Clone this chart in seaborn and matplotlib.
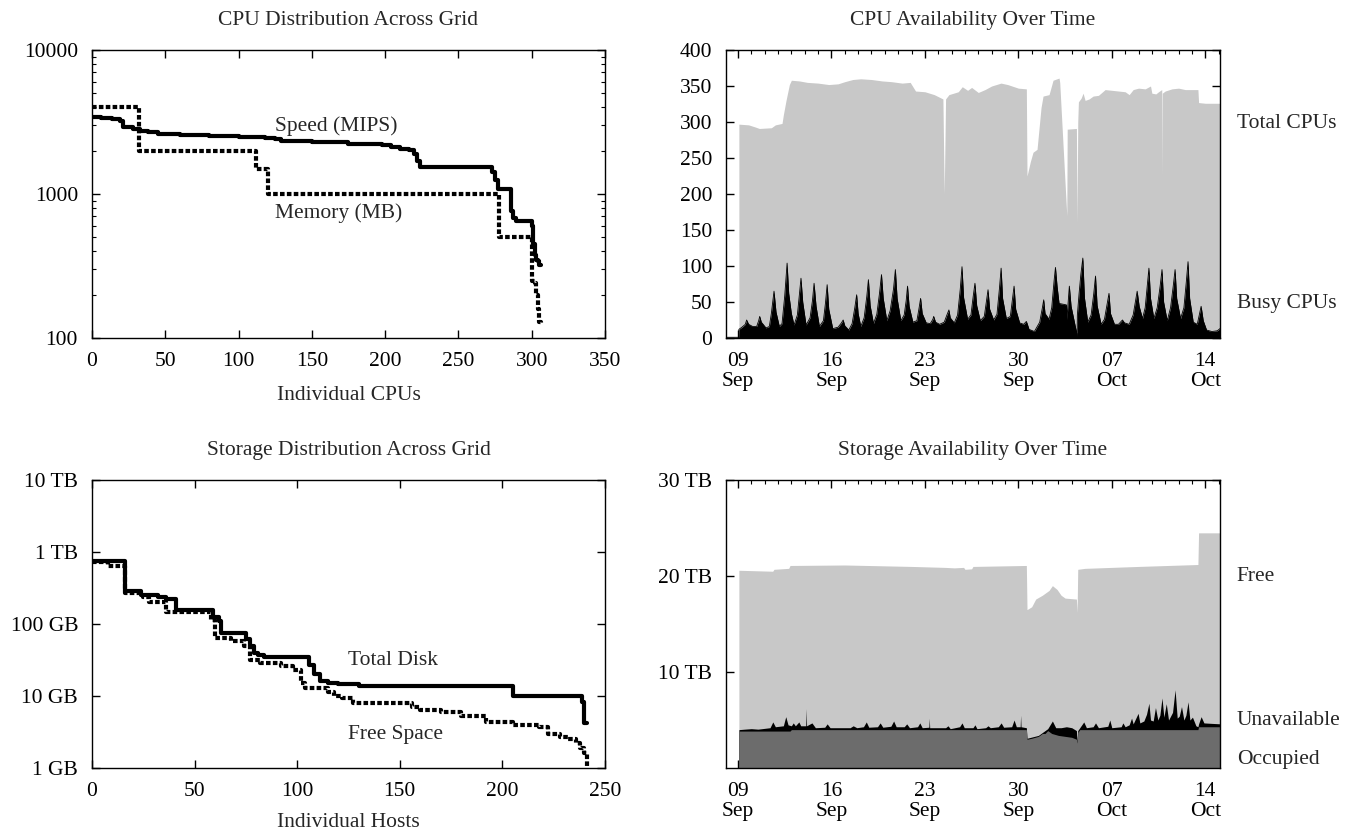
import pandas as pd
import numpy as np
import seaborn as sns
import matplotlib.pyplot as plt
import matplotlib.dates as mdates
from matplotlib.ticker import FixedLocator, FuncFormatter, NullFormatter, NullLocator, LogLocator

# ---- CPU distribution (sorted per CPU, step curves) ----
speed_x = [0, 6, 14, 19, 21, 28, 33, 38, 45, 60, 80, 100, 118, 125, 129, 150, 175, 198, 204, 210, 216,
           220, 222, 224, 273, 275, 277, 286, 287, 289, 300, 301, 302, 303, 304, 305, 306]
speed_mips = [3450, 3350, 3300, 3200, 2900, 2820, 2760, 2680, 2620, 2570, 2530, 2490, 2450, 2400, 2320,
              2280, 2240, 2200, 2120, 2060, 2010, 1900, 1700, 1540, 1420, 1250, 1090, 760, 680, 650, 600,
              450, 380, 350, 340, 320, 320]
mem_x = [0, 32, 112, 120, 278, 300, 302, 303, 304, 305, 306]
mem_mb = [4000, 2000, 1500, 1000, 500, 250, 240, 200, 160, 130, 125]

# ---- storage distribution (GB per host) ----
disk_x = [0, 16, 24, 32, 36, 41, 59, 62, 63, 75, 77, 79, 81, 84, 106, 108, 111, 115, 120, 130, 205,
          239, 240, 241]
disk_gb = [760, 290, 255, 235, 225, 155, 125, 110, 76, 62, 50, 40, 37, 35, 27, 20, 16, 15, 14.5, 13.6,
           10, 8.3, 4.2, 4.2]
free_x = [0, 8, 16, 25, 28, 36, 58, 60, 68, 74, 77, 82, 92, 98, 102, 104, 115, 118, 122, 127, 156, 160,
          170, 180, 192, 205, 218, 222, 228, 232, 236, 238, 240, 241]
free_gb = [720, 640, 270, 240, 200, 148, 115, 64, 59, 49, 32, 29, 26, 23, 15, 12.8, 11.5, 10, 9.3, 7.9,
           7, 6.3, 6.0, 5.2, 4.4, 3.95, 3.7, 2.95, 2.7, 2.5, 2.2, 1.9, 1.6, 1.0]

# ---- CPU availability over time (days after 09 Sep) ----
total_cpu_day = [0.07, 0.8, 1.3, 1.6, 2.5, 2.8, 3.3, 3.4, 3.6, 3.85, 4.0, 4.6, 5.2, 6.0, 6.8, 7.5, 8.0,
                 8.6, 9.2, 10.0, 10.8, 11.5, 12.3, 12.9, 13.3, 14.0, 14.7, 15.35, 15.45, 15.55, 15.8,
                 16.5, 16.8, 17.2, 17.5, 18.0, 18.5, 19.0, 19.7, 20.2, 21.0, 21.6, 21.65, 21.9, 22.1,
                 22.4, 22.7, 22.85, 23.3, 23.6, 24.05, 24.1, 24.6, 24.63, 24.66, 25.35, 25.4, 25.45,
                 25.5, 25.7, 25.85, 26.0, 26.3, 26.6, 27.0, 27.5, 28.0, 28.5, 29.0, 29.3, 29.6, 30.0,
                 30.5, 30.9, 31.0, 31.3, 31.5, 31.74, 31.76, 31.78, 32.0, 32.5, 33.0, 33.5, 34.45, 34.5,
                 35.0, 36.17]
total_cpu = [297, 296, 293, 291, 292, 296, 298, 310, 330, 352, 358, 357, 355, 354, 352, 353, 356,
             359, 360, 359, 357, 356, 354, 355, 343, 342, 338, 332, 200, 332, 338,
             342, 349, 344, 348, 341, 345, 350, 354, 352, 347, 346, 225, 245, 258,
             262, 320, 336, 338, 358, 361, 355, 180, 170, 290, 291, 160, 300,
             328, 333, 340, 330, 332, 336, 337, 345, 344, 343, 342, 338, 345, 347,
             346, 350, 340, 339, 342, 345, 225, 340, 343, 346, 347, 345, 345, 327,
             326, 326]

busy_day = [-0.9, 0.05, 0.07, 0.3, 0.55, 0.65, 0.8, 1.1,
            1.4, 1.55, 1.63, 1.75, 2.1,
            2.35, 2.5, 2.7, 2.85, 3.1,
            3.3, 3.5, 3.68, 3.8, 4.0, 4.2,
            4.45, 4.6, 4.72, 4.85, 5.1,
            5.4, 5.58, 5.7, 5.85, 6.1,
            6.4, 6.55, 6.68, 6.8, 7.1,
            7.5, 7.75, 7.88, 8.0, 8.3,
            8.55, 8.75, 8.89, 9.0, 9.2,
            9.45, 9.65, 9.77, 9.9, 10.15,
            10.4, 10.6, 10.75, 10.88, 11.15,
            11.4, 11.65, 11.79, 11.92, 12.2,
            12.45, 12.6, 12.7, 12.82, 13.1,
            13.4, 13.55, 13.68, 13.8, 14.1,
            14.4, 14.6, 14.66, 14.8, 15.1,
            15.45, 15.65, 15.8, 15.9, 16.2,
            16.45, 16.65, 16.78, 16.9, 17.2,
            17.45, 17.62, 17.75, 17.88, 18.15,
            18.45, 18.6, 18.73, 18.85, 19.15,
            19.4, 19.58, 19.71, 19.82, 20.1,
            20.4, 20.55, 20.68, 20.8, 21.1,
            21.4, 21.6, 21.66, 21.8, 22.2,
            22.6, 22.8, 22.9, 23.0, 23.3,
            23.5, 23.68, 23.78, 23.9, 24.05, 24.6, 24.65,
            24.7, 24.82, 24.95, 25.2, 25.38, 25.4, 25.42,
            25.55, 25.68, 25.83, 25.95, 26.2,
            26.45, 26.65, 26.78, 26.9, 27.2,
            27.45, 27.65, 27.79, 27.9, 28.2,
            28.5, 28.7, 28.8, 28.95, 29.3,
            29.6, 29.78, 29.9, 30.05, 30.3,
            30.5, 30.65, 30.78, 30.9, 31.15,
            31.4, 31.62, 31.76, 31.88, 32.15,
            32.4, 32.6, 32.74, 32.86, 33.15,
            33.4, 33.58, 33.71, 33.83, 34.1,
            34.4, 34.55, 34.69, 34.85, 35.1,
            35.5, 35.9, 36.17]
busy_cpu = [1, 1, 12, 15, 19, 25, 19, 16,
            16, 24, 30, 22, 14,
            16, 34, 65, 36, 16,
            20, 58, 104, 62, 34, 18,
            32, 60, 83, 50, 18,
            28, 52, 76, 44, 16,
            24, 48, 74, 40, 13,
            15, 21, 25, 17, 11,
            20, 42, 60, 34, 16,
            28, 58, 81, 45, 20,
            33, 62, 88, 55, 24,
            38, 68, 95, 55, 24,
            32, 52, 72, 44, 22,
            24, 40, 55, 34, 21,
            20, 26, 30, 22, 19,
            22, 32, 39, 28, 21,
            32, 68, 99, 56, 26,
            32, 58, 76, 45, 24,
            30, 50, 67, 40, 25,
            33, 68, 97, 55, 27,
            30, 52, 72, 40, 21,
            19, 23, 20, 12, 9,
            22, 42, 53, 34, 26,
            42, 80, 98, 72, 48, 46, 26,
            42, 72, 44, 22, 6, 0, 32,
            62, 88, 111, 56, 22,
            32, 62, 86, 45, 19,
            26, 47, 62, 34, 19,
            19, 23, 25, 21, 19,
            32, 52, 65, 44, 27,
            42, 72, 97, 55, 27,
            42, 72, 95, 50, 24,
            42, 72, 95, 55, 27,
            42, 78, 106, 55, 22,
            19, 32, 44, 24, 11,
            9, 10, 14]

# ---- storage availability over time (TB) ----
stor_total_day = [0.07, 2.6, 2.7, 3.8, 3.9, 8.0, 13.0, 15.5, 16.2, 16.9, 17.0, 17.5, 17.6, 21.6, 21.65,
                  22.0, 22.3, 22.8, 23.3, 23.55, 23.9, 24.2, 24.5, 25.35, 25.4, 25.45, 26.0, 30.0, 34.45,
                  34.5, 36.17]
stor_total_tb = [20.6, 20.5, 20.7, 20.8, 21.1, 21.15, 21.0, 20.9, 20.85, 20.9, 20.7, 20.75, 21.0, 21.1,
                 16.5, 16.8, 17.6, 18.0, 18.5, 19.0, 18.6, 18.0, 17.7, 17.6, 16.2, 20.7, 20.8, 21.0,
                 21.2, 24.5, 24.5]
occupied_day = [0.07, 3.9, 4.0, 21.6, 21.65, 22.0, 22.5, 22.8, 23.0, 23.2, 23.5, 24.0, 24.5, 25.0,
                25.35, 25.4, 25.45, 25.6, 34.45, 34.5, 36.17]
occupied_tb = [3.85, 3.85, 4.0, 4.0, 3.0, 3.1, 3.3, 3.6, 3.6, 3.9, 3.6, 3.4, 3.3, 3.2,
               3.0, 2.6, 3.7, 4.0, 4.0, 4.3, 4.3]
unavail_day = [0.07, 0.5, 1.0, 1.5, 2.4, 2.61, 2.8, 3.4, 3.58, 3.75, 4.0, 4.14, 4.3, 4.56, 4.7, 5.08,
               5.11, 5.14, 5.54, 5.8, 6.5, 6.68, 6.9, 8.4, 8.63, 8.9, 9.4, 9.61, 9.8, 10.45, 10.65,
               10.85, 11.45, 11.66, 11.85, 12.45, 12.64, 12.85, 13.45, 13.62, 13.8, 14.3, 14.33, 14.36,
               15.55, 15.73, 15.9, 16.6, 16.78, 16.95, 17.6, 17.75, 17.9, 18.55, 18.73, 18.9, 19.5,
               19.71, 19.9, 20.5, 20.68, 20.85, 21.14, 21.17, 21.2, 21.6, 21.65, 22.5, 22.8, 23.2,
               23.55, 23.8, 24.2, 24.6, 25.0, 25.35, 25.4, 25.45, 25.9, 26.1, 26.6, 26.78, 27.0, 27.7,
               27.85, 28.0, 28.7, 28.83, 29.0, 29.3, 29.48, 29.6, 29.97, 30.1, 30.4, 30.6, 30.78, 30.9,
               31.1, 31.27, 31.45, 31.6, 31.76, 31.9, 32.08, 32.25, 32.55, 32.74, 32.9, 33.05, 33.22,
               33.4, 33.55, 33.71, 33.85, 34.04, 34.3, 34.45, 34.5, 34.69, 34.9, 35.5, 36.17]
unavail_top_tb = [4.0, 4.05, 4.1, 4.05, 4.2, 4.8, 4.3, 4.4, 5.35, 4.5, 4.4, 4.7, 4.4, 4.8, 4.4, 4.4,
                  6.2, 4.4, 4.7, 4.2, 4.25, 4.6, 4.2, 4.2, 4.4, 4.2, 4.3, 4.8, 4.25, 4.3, 4.7,
                  4.25, 4.35, 4.9, 4.3, 4.3, 4.6, 4.2, 4.3, 4.7, 4.2, 4.25, 5.2, 4.2,
                  4.2, 4.4, 4.1, 4.3, 4.7, 4.2, 4.2, 4.5, 4.1, 4.2, 4.4, 4.2, 4.3,
                  4.7, 4.25, 4.3, 5.0, 4.3, 4.3, 5.5, 4.3, 4.2, 3.1, 3.4, 3.7, 4.1,
                  4.9, 4.2, 4.2, 4.3, 4.2, 3.9, 2.7, 3.9, 4.8, 4.2, 4.3, 4.7, 4.2, 4.35,
                  5.0, 4.2, 4.3, 4.7, 4.3, 4.5, 5.2, 4.6, 5.7, 4.7, 4.9, 5.6, 6.75, 5.0,
                  4.9, 6.3, 5.0, 5.5, 7.3, 5.3, 6.7, 5.0, 5.8, 8.15, 5.2, 5.4, 6.4,
                  5.0, 5.5, 6.9, 5.0, 5.3, 4.4, 4.3, 4.6, 5.35, 4.7, 4.65, 4.6]

start = pd.Timestamp("2003-09-09")


def to_dates(days):
    return start + pd.to_timedelta(np.array(days, dtype=float), unit="D")


sns.set_theme(style="ticks")
plt.rcParams["font.family"] = ["Liberation Serif", "DejaVu Serif"]
FS = 15.5
plt.rcParams["font.size"] = FS
plt.rcParams["axes.linewidth"] = 1.0
plt.rcParams["axes.edgecolor"] = "black"

light = "#c8c8c8"
dark = "#6c6c6c"
dotted = (0, (1.1, 0.55))

fig = plt.figure(figsize=(13.62, 8.36), dpi=100)
ax_cpu = fig.add_axes([0.0675, 0.5957, 0.3767, 0.3445])
ax_cpu_t = fig.add_axes([0.5330, 0.5957, 0.3627, 0.3445])
ax_sto = fig.add_axes([0.0675, 0.0813, 0.3767, 0.3445])
ax_sto_t = fig.add_axes([0.5330, 0.0813, 0.3627, 0.3445])


def style_box(ax):
    ax.tick_params(which="both", direction="in", top=True, right=True, colors="black",
                   labelsize=FS, pad=10)
    ax.tick_params(which="major", length=6, width=1)
    ax.tick_params(which="minor", length=3, width=0.8)
    for s in ax.spines.values():
        s.set_visible(True)
        s.set_color("black")
        s.set_linewidth(1.0)


# CPU distribution
sns.lineplot(x=speed_x, y=speed_mips, ax=ax_cpu, color="black", lw=3, estimator=None,
             drawstyle="steps-post")
sns.lineplot(x=mem_x, y=mem_mb, ax=ax_cpu, color="black", lw=3, estimator=None,
             drawstyle="steps-post", linestyle=dotted)
ax_cpu.set_yscale("log")
ax_cpu.set_ylim(100, 10000)
ax_cpu.set_xlim(0, 350)
ax_cpu.set_xticks(range(0, 351, 50))
ax_cpu.yaxis.set_major_locator(FixedLocator([100, 1000, 10000]))
ax_cpu.yaxis.set_major_formatter(FuncFormatter(lambda v, p: f"{int(round(v))}"))
ax_cpu.yaxis.set_minor_locator(LogLocator(base=10, subs=range(2, 10)))
ax_cpu.yaxis.set_minor_formatter(NullFormatter())
style_box(ax_cpu)
ax_cpu.set_title("CPU Distribution Across Grid", fontsize=FS, pad=18)
ax_cpu.set_xlabel("Individual CPUs", fontsize=FS, labelpad=11)
ax_cpu.text(125, 2940, "Speed (MIPS)", fontsize=FS, va="center", ha="left")
ax_cpu.text(125, 740, "Memory (MB)", fontsize=FS, va="center", ha="left")

# Storage distribution
sns.lineplot(x=disk_x, y=disk_gb, ax=ax_sto, color="black", lw=3, estimator=None,
             drawstyle="steps-post")
sns.lineplot(x=free_x, y=free_gb, ax=ax_sto, color="black", lw=3, estimator=None,
             drawstyle="steps-post", linestyle=dotted)
ax_sto.set_yscale("log")
ax_sto.set_ylim(1, 10000)
ax_sto.set_xlim(0, 250)
ax_sto.set_xticks(range(0, 251, 50))
gb_labels = {1: "1 GB", 10: "10 GB", 100: "100 GB", 1000: "1 TB", 10000: "10 TB"}
ax_sto.yaxis.set_major_locator(FixedLocator(list(gb_labels)))
ax_sto.yaxis.set_major_formatter(FuncFormatter(lambda v, p: gb_labels.get(int(round(v)), "")))
ax_sto.yaxis.set_minor_locator(NullLocator())
style_box(ax_sto)
ax_sto.set_title("Storage Distribution Across Grid", fontsize=FS, pad=18)
ax_sto.set_xlabel("Individual Hosts", fontsize=FS, labelpad=9)
ax_sto.text(125, 31, "Total Disk", fontsize=FS, va="center", ha="left")
ax_sto.text(125, 2.9, "Free Space", fontsize=FS, va="center", ha="left")

# time axes
date_ticks = [pd.Timestamp(d) for d in ["2003-09-09", "2003-09-16", "2003-09-23", "2003-09-30",
                                         "2003-10-07", "2003-10-14"]]
x_lo = start + pd.Timedelta(days=-0.9)
x_hi = start + pd.Timedelta(days=36.1)


def style_time(ax):
    ax.set_xlim(x_lo, x_hi)
    ax.xaxis.set_major_locator(FixedLocator(mdates.date2num(date_ticks)))
    ax.xaxis.set_major_formatter(mdates.DateFormatter("%d\n%b"))
    ax.xaxis.set_minor_locator(mdates.DayLocator())
    ax.set_axisbelow(True)
    style_box(ax)
    for lbl in ax.get_xticklabels():
        lbl.set_linespacing(1.05)
    ax.set_xlabel("")
    ax.set_ylabel("")


# CPU availability
t_total = to_dates(total_cpu_day)
t_busy = to_dates(busy_day)
ax_cpu_t.fill_between(t_total, 0, total_cpu, color=light, lw=0)
ax_cpu_t.fill_between(t_busy, 0, busy_cpu, color="black", lw=0)
sns.lineplot(x=t_busy, y=busy_cpu, ax=ax_cpu_t, color="black", lw=0.6, estimator=None)
ax_cpu_t.set_ylim(0, 400)
ax_cpu_t.set_yticks(range(0, 401, 50))
style_time(ax_cpu_t)
ax_cpu_t.set_title("CPU Availability Over Time", fontsize=FS, pad=18)
ax_cpu_t.text(1.034, 298, "Total CPUs", transform=ax_cpu_t.get_yaxis_transform(),
              fontsize=FS, va="center", ha="left")
ax_cpu_t.text(1.034, 48, "Busy CPUs", transform=ax_cpu_t.get_yaxis_transform(),
              fontsize=FS, va="center", ha="left")

# Storage availability
t_stor = to_dates(stor_total_day)
t_occ = to_dates(occupied_day)
t_un = to_dates(unavail_day)
ax_sto_t.fill_between(t_stor, 0, stor_total_tb, color=light, lw=0)
ax_sto_t.fill_between(t_un, 0, unavail_top_tb, color="black", lw=0)
ax_sto_t.fill_between(t_occ, 0, occupied_tb, color=dark, lw=0)
ax_sto_t.set_ylim(0, 30)
ax_sto_t.set_yticks([10, 20, 30])
ax_sto_t.yaxis.set_major_formatter(FuncFormatter(lambda v, p: f"{int(v)} TB"))
style_time(ax_sto_t)
ax_sto_t.set_title("Storage Availability Over Time", fontsize=FS, pad=18)
for label, yv in [("Free", 20.0), ("Unavailable", 4.9), ("Occupied", 0.85)]:
    ax_sto_t.text(1.034, yv, label, transform=ax_sto_t.get_yaxis_transform(),
                  fontsize=FS, va="center", ha="left")

fig.savefig("out.png", dpi=100)
